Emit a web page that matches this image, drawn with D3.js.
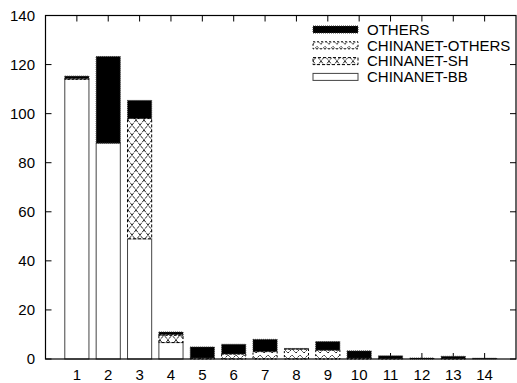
<!DOCTYPE html>
<html lang="en">
<head>
  <meta charset="utf-8" />
  <title>Stacked bars</title>
  <script src="https://d3js.org/d3.v7.min.js"></script>
  <style>
    body { margin: 0; background: white; }
    text { font-family: "Liberation Sans", Arial, sans-serif; font-size: 15px; fill: black; }
  </style>
</head>
<body>
  <svg width="517" height="383"></svg>
  <script>
    // data
    const categories = [1, 2, 3, 4, 5, 6, 7, 8, 9, 10, 11, 12, 13, 14];
    const chinanetBB = [114, 88, 49, 6.7, 0, 0, 0, 0, 0, 0, 0, 0, 0, 0];
    const chinanetSH = [0, 0, 49, 3, 0, 0, 0, 0, 0, 0, 0, 0, 0, 0];
    const chinanetOthers = [0.3, 0, 0, 0.3, 0.4, 2, 3, 4, 3.6, 0.3, 0.2, 0, 0.2, 0];
    const others = [1, 35.3, 7.4, 1, 4.5, 4, 5, 0.3, 3.5, 3, 1.1, 0.4, 0.9, 0.3];
    const yTicks = [0, 20, 40, 60, 80, 100, 120, 140];

    const keys = ["BB", "SH", "CHO", "OTH"];
    const labels = { BB: "CHINANET-BB", SH: "CHINANET-SH", CHO: "CHINANET-OTHERS", OTH: "OTHERS" };
    const rows = categories.map((c, i) => ({
      cat: c, BB: chinanetBB[i], SH: chinanetSH[i], CHO: chinanetOthers[i], OTH: others[i]
    }));

    const svg = d3.select("svg");
    const pLeft = 45.5, pRight = 516, pTop = 15.5, pBottom = 359;

    const x = d3.scaleLinear().domain([0, 15]).range([pLeft, pRight]);
    const y = d3.scaleLinear().domain([0, 140]).range([pBottom, pTop]);
    const barW = 0.77 * (x(1) - x(0));

    // fill patterns
    const defs = svg.append("defs");
    const pSH = defs.append("pattern").attr("id", "pSH")
      .attr("patternUnits", "userSpaceOnUse").attr("width", 8).attr("height", 10);
    pSH.append("rect").attr("width", 8).attr("height", 10).attr("fill", "white");
    pSH.append("path").attr("d", "M0,0 L8,10 M8,0 L0,10")
      .attr("stroke", "black").attr("stroke-width", 0.9).attr("stroke-dasharray", "3,1");

    const pCHO = defs.append("pattern").attr("id", "pCHO")
      .attr("patternUnits", "userSpaceOnUse").attr("width", 8).attr("height", 6);
    pCHO.append("rect").attr("width", 8).attr("height", 6).attr("fill", "white");
    pCHO.append("path").attr("d", "M0,5 L4,1 L8,5")
      .attr("fill", "none").attr("stroke", "black").attr("stroke-width", 0.9).attr("stroke-dasharray", "2,1");

    const fills = { BB: "white", SH: "url(#pSH)", CHO: "url(#pCHO)", OTH: "black" };
    const strokes = { BB: "#444", SH: "black", CHO: "black", OTH: "#333" };
    const dashes = { BB: null, SH: "3,2", CHO: "2,2", OTH: "1,1" };

    // ticks (drawn before the bars, like the original)
    const ax = svg.append("g").attr("stroke", "black").attr("stroke-width", 1);
    yTicks.forEach(t => {
      ax.append("line").attr("x1", pLeft).attr("x2", pLeft + 6).attr("y1", y(t)).attr("y2", y(t));
      ax.append("line").attr("x1", pRight).attr("x2", pRight - 6).attr("y1", y(t)).attr("y2", y(t));
    });
    categories.forEach(c => {
      ax.append("line").attr("x1", x(c)).attr("x2", x(c)).attr("y1", pBottom).attr("y2", pBottom - 6);
      ax.append("line").attr("x1", x(c)).attr("x2", x(c)).attr("y1", pTop).attr("y2", pTop + 6);
    });

    const stacked = d3.stack().keys(keys)(rows);
    svg.append("g").selectAll("g")
      .data(stacked)
      .join("g")
      .each(function (layer) {
        d3.select(this).selectAll("rect")
          .data(layer.filter(d => d[1] - d[0] > 0))
          .join("rect")
          .attr("x", d => x(d.data.cat) - barW / 2)
          .attr("width", barW)
          .attr("y", d => y(d[1]))
          .attr("height", d => y(d[0]) - y(d[1]))
          .attr("fill", fills[layer.key])
          .attr("stroke", strokes[layer.key])
          .attr("stroke-width", 1)
          .attr("stroke-dasharray", dashes[layer.key]);
      });

    // frame
    svg.append("rect").attr("x", pLeft).attr("y", pTop)
      .attr("width", pRight - pLeft).attr("height", pBottom - pTop)
      .attr("fill", "none").attr("stroke", "black").attr("stroke-width", 1.2);

    // tick labels
    svg.append("g").selectAll("text").data(yTicks).join("text")
      .attr("x", 35).attr("y", d => y(d)).attr("dy", "0.35em")
      .attr("text-anchor", "end").text(d => d);
    svg.append("g").selectAll("text").data(categories).join("text")
      .attr("x", d => x(d)).attr("y", 380)
      .attr("text-anchor", "middle").text(d => d);

    // legend
    const legendKeys = ["OTH", "CHO", "SH", "BB"];
    const lg = svg.append("g").selectAll("g").data(legendKeys).join("g")
      .attr("transform", (d, i) => `translate(313,${29.5 + i * 15.8})`);
    lg.append("rect").attr("x", 0).attr("y", -3.5).attr("width", 45).attr("height", 7)
      .attr("fill", d => fills[d]).attr("stroke", d => strokes[d])
      .attr("stroke-dasharray", d => dashes[d]);
    lg.append("text").attr("x", 54).attr("dy", "0.35em").text(d => labels[d]);
  </script>
</body>
</html>
